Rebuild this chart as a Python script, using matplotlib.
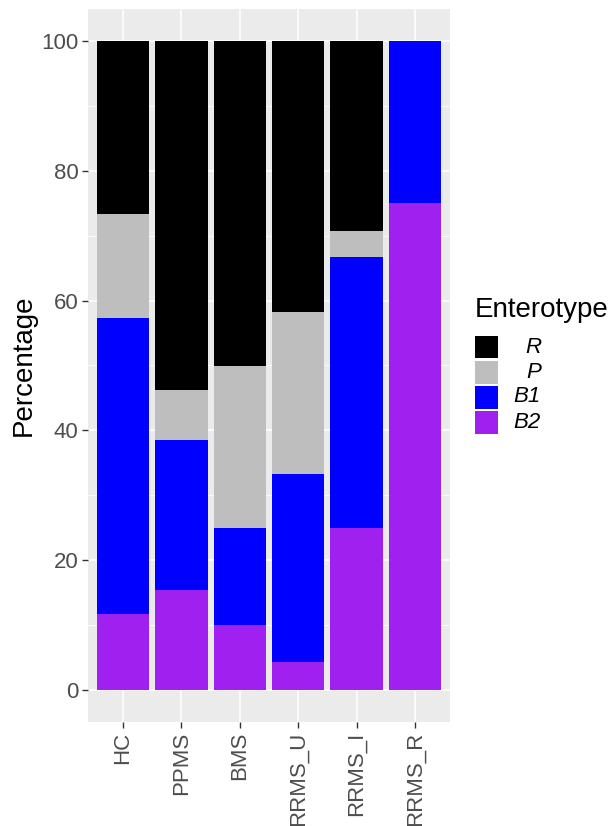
import matplotlib
matplotlib.use("Agg")
import matplotlib.pyplot as plt
from matplotlib.patches import Rectangle
import numpy as np

plt.rcParams['font.family'] = ['Liberation Sans', 'DejaVu Sans']

groups = ["HC", "PPMS", "BMS", "RRMS_U", "RRMS_I", "RRMS_R"]
# segment percentages (stacked bottom -> top: B2, B1, P, R)
b2 = [11.6, 15.4, 10.0, 4.2, 25.0, 75.0]
b1 = [45.8, 23.1, 15.0, 29.1, 41.7, 25.0]
p = [15.9, 7.7, 25.0, 25.0, 4.1, 0.0]
r = [26.7, 53.8, 50.0, 41.7, 29.2, 0.0]

series_names = ["B2", "B1", "P", "R"]
series_vals = [b2, b1, p, r]
series_colors = ["#A020F0", "#0000FF", "#BEBEBE", "#000000"]
legend_order = ["R", "P", "B1", "B2"]
yticks = [0, 20, 40, 60, 80, 100]

W, H = 614, 826
fig = plt.figure(figsize=(W / 100, H / 100), dpi=100)
ax = fig.add_axes([88 / W, (H - 722) / H, 362 / W, 713 / H])
ax.set_facecolor("#EBEBEB")

x = np.arange(len(groups))
bottom = np.zeros(len(groups))
for name, vals, col in zip(series_names, series_vals, series_colors):
    ax.bar(x, vals, width=0.9, bottom=bottom, color=col, edgecolor="none", zorder=3)
    bottom += np.array(vals)

ax.set_xlim(-0.6, len(groups) - 0.4)
ax.set_ylim(-5, 105)
ax.set_xticks(x)
ax.set_xticklabels(groups, rotation=90, fontsize=16, color="#4D4D4D")
ax.set_yticks(yticks)
ax.set_yticklabels([str(v) for v in yticks], fontsize=16, color="#4D4D4D")
ax.set_yticks([10, 30, 50, 70, 90], minor=True)
ax.grid(which="major", color="white", linewidth=1.1, zorder=0)
ax.grid(which="minor", axis="y", color="white", linewidth=0.55, zorder=0)
ax.tick_params(which="major", length=4, width=1.0, color="#333333", pad=3)
ax.tick_params(which="minor", length=0)
for s in ax.spines.values():
    s.set_visible(False)
ax.set_axisbelow(True)
ax.set_ylabel("Percentage", fontsize=20, color="black")
ax.yaxis.label.set_va("center")
ax.yaxis.set_label_coords((24 - 88) / 362, 0.5)

# legend
fig.text(475 / W, 1 - 310 / H, "Enterotype", fontsize=20, ha="left", va="center")
key_centers = [347, 372, 397, 422]
color_map = dict(zip(series_names, series_colors))
for name, yc in zip(legend_order, key_centers):
    fig.patches.append(Rectangle((475 / W, 1 - (yc + 11.5) / H), 23 / W, 23 / H,
                                 transform=fig.transFigure, facecolor=color_map[name],
                                 edgecolor="none"))
    fig.text(541 / W, 1 - yc / H, name, fontsize=16, style="italic",
             ha="right", va="center")

fig.savefig("out.png", dpi=100)
